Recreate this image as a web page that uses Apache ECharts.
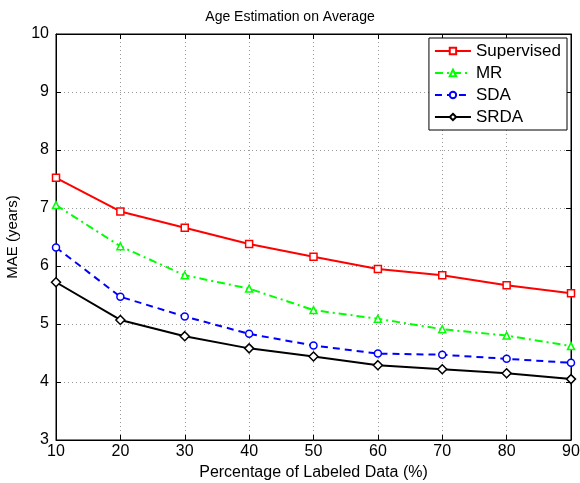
<!DOCTYPE html>
<html><head><meta charset="utf-8">
<script src="https://cdn.jsdelivr.net/npm/echarts@6/dist/echarts.min.js"></script>
<style>html,body{margin:0;padding:0;background:#fff}#c{width:580px;height:483px}</style>
</head><body><div id="c"></div>
<script>
var xValues = [10, 20, 30, 40, 50, 60, 70, 80, 90];
var supervised = [7.52, 6.94, 6.66, 6.38, 6.16, 5.95, 5.84, 5.67, 5.53];
var mr = [7.05, 6.34, 5.84, 5.61, 5.24, 5.09, 4.91, 4.80, 4.62];
var sda = [6.32, 5.47, 5.13, 4.83, 4.63, 4.49, 4.47, 4.40, 4.33];
var srda = [5.72, 5.07, 4.79, 4.58, 4.44, 4.29, 4.22, 4.15, 4.05];
var seriesNames = ['Supervised', 'MR', 'SDA', 'SRDA'];

function pairs(arr){ return xValues.map(function(x,i){ return [x, arr[i]]; }); }
var font = 'Liberation Sans, Arial, Helvetica, sans-serif';
var chart = echarts.init(document.getElementById('c'), null, {renderer:'canvas'});
var tickStyle = {show:true, inside:true, length:5, lineStyle:{color:'#000'}};
var gridLine = {show:true, lineStyle:{color:'#999', type:[1,3], width:1}};
function mk(name, data, color, symbol, dash){
  return {name:name, type:'line', data:pairs(data), symbol:symbol, symbolSize: symbol==='diamond'?9:7,
    showSymbol:true, itemStyle:{color:'#fff', borderColor:color, borderWidth:1.5},
    lineStyle:{color:color, width:2, type:dash}, z: 3, animation:false};
}
chart.setOption({
  animation:false,
  title:{text:'Age Estimation on Average', left:'center', top:5, textStyle:{fontFamily:font, fontSize:14, fontWeight:'normal', color:'#000'}},
  grid:{left:56, right:9, top:34, bottom:43, outerBoundsMode:'none', containLabel:false, show:true, borderColor:'#000', borderWidth:1, backgroundColor:'#fff'},
  legend:{orient:'vertical', right:13, top:38, itemWidth:36, itemHeight:8, itemGap:4, padding:[4,6,4,5],
    backgroundColor:'#fff', borderColor:'#000', borderWidth:1, borderRadius:0,
    textStyle:{fontFamily:font, fontSize:17, lineHeight:18, color:'#000'}, data:seriesNames},
  xAxis:[{type:'value', min:10, max:90, interval:10, name:'Percentage of Labeled Data (%)', nameLocation:'middle', nameGap:25,
    nameTextStyle:{fontFamily:font, fontSize:16, color:'#000'},
    axisLine:{show:true, lineStyle:{color:'#000'}}, axisTick:tickStyle, splitLine:gridLine,
    axisLabel:{fontFamily:font, fontSize:16, color:'#000', margin:4}},
    {type:'value', position:'top', min:10, max:90, interval:10, axisLine:{show:true, lineStyle:{color:'#000'}}, axisTick:tickStyle, axisLabel:{show:false}, splitLine:{show:false}}],
  yAxis:[{type:'value', min:3, max:10, interval:1, name:'MAE (years)', nameLocation:'middle', nameGap:28,
    nameTextStyle:{fontFamily:font, fontSize:15, color:'#000'},
    axisLine:{show:true, lineStyle:{color:'#000'}}, axisTick:tickStyle, splitLine:gridLine,
    axisLabel:{fontFamily:font, fontSize:16, color:'#000', margin:7}},
    {type:'value', position:'right', min:3, max:10, interval:1, axisLine:{show:true, lineStyle:{color:'#000'}}, axisTick:tickStyle, axisLabel:{show:false}, splitLine:{show:false}}],
  series:[
    mk('Supervised', supervised, '#ff0000', 'rect', 'solid'),
    mk('MR', mr, '#00ff00', 'triangle', [8,4,2,4]),
    mk('SDA', sda, '#0000ff', 'circle', [7,5]),
    mk('SRDA', srda, '#000000', 'diamond', 'solid')
  ]
});
</script></body></html>
